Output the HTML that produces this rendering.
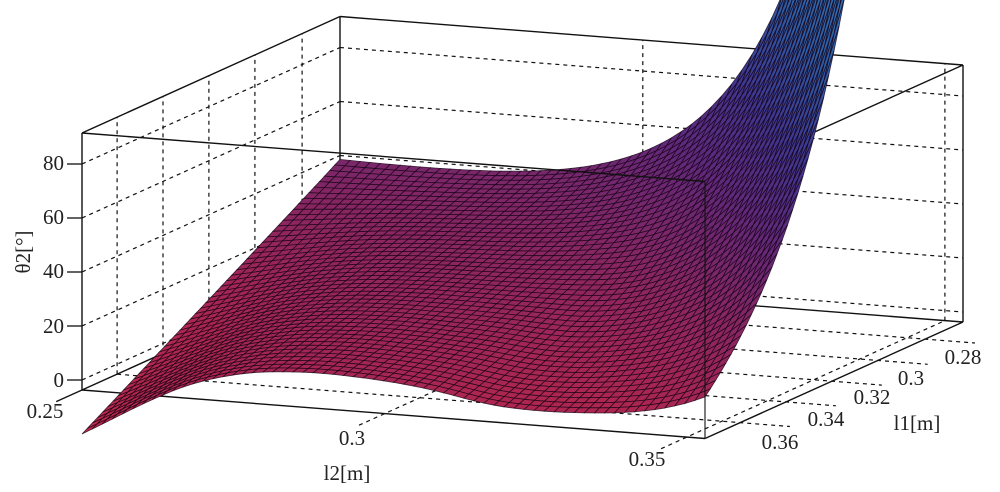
<!DOCTYPE html>
<html><head><meta charset="utf-8"><style>
html,body{margin:0;padding:0;background:#fff;width:1000px;height:492px;overflow:hidden}
svg{display:block}
text{font-family:"Liberation Serif",serif;fill:#222}
</style></head><body>
<svg id="s" width="1000" height="492" viewBox="0 0 1000 492" xmlns="http://www.w3.org/2000/svg">
<g id="under"></g><g id="surf"></g><g id="over"></g>
<g font-size="21">
<text x="64" y="170" text-anchor="end">80</text>
<text x="64" y="224" text-anchor="end">60</text>
<text x="64" y="278" text-anchor="end">40</text>
<text x="64" y="333" text-anchor="end">20</text>
<text x="64" y="387" text-anchor="end">0</text>
<text transform="translate(30,252) rotate(-90)" text-anchor="middle">θ2[°]</text>
<text x="45" y="418" text-anchor="middle">0.25</text>
<text x="352" y="445" text-anchor="middle">0.3</text>
<text x="647" y="466" text-anchor="middle">0.35</text>
<text x="347" y="480" text-anchor="middle">l2[m]</text>
<text x="963" y="364" text-anchor="middle">0.28</text>
<text x="911" y="385" text-anchor="middle">0.3</text>
<text x="872" y="404" text-anchor="middle">0.32</text>
<text x="826" y="426" text-anchor="middle">0.34</text>
<text x="780" y="449" text-anchor="middle">0.36</text>
<text x="917" y="430" text-anchor="middle">l1[m]</text>
</g>
</svg>
<script>
function P(u,v,z){return [82+623*u+258*v, 390+48.5*u-116.5*v-2.7*(z+3.7)];}
var F0p=[[0,-20],[.15,-1],[.25,6.5],[.35,9],[.45,8.5],[.55,6],[.67,0.5],[.83,-3],[1,-7]];
function F0(u){var n=F0p.length;for(var i=0;i<n-1;i++){var a=F0p[i],b=F0p[i+1];if(u<=b[0]){var t=(u-a[0])/(b[0]-a[0]);
var p0=F0p[Math.max(i-1,0)],p3=F0p[Math.min(i+2,n-1)];var h=b[0]-a[0];
var m1=(b[1]-p0[1])/(b[0]-p0[0])*h, m2=(p3[1]-a[1])/(p3[0]-a[0])*h;
var t2=t*t,t3=t2*t;return (2*t3-3*t2+1)*a[1]+(t3-2*t2+t)*m1+(-2*t3+3*t2)*b[1]+(t3-t2)*m2;}}return F0p[n-1][1];}
function Z(u,v){return (1-v)*F0(u)+v*(38-10*u)+620*Math.exp(7*(u-1)+3.5*(v-1));}
var stops=[[-20,[190,42,76]],[5,[172,38,80]],[30,[134,38,98]],[55,[96,40,122]],[80,[62,54,142]],[110,[46,92,164]],[170,[56,136,196]]];
function col(z){if(z<=stops[0][0])return stops[0][1];for(var i=0;i<stops.length-1;i++){var a=stops[i],b=stops[i+1];if(z<=b[0]){var t=(z-a[0])/(b[0]-a[0]);return [0,1,2].map(function(k){return Math.round(a[1][k]+(b[1][k]-a[1][k])*t);});}}return stops[stops.length-1][1];}
function L(p,q,dash,w){return '<line x1="'+p[0].toFixed(1)+'" y1="'+p[1].toFixed(1)+'" x2="'+q[0].toFixed(1)+'" y2="'+q[1].toFixed(1)+'" stroke="#111" stroke-width="'+(w||1.4)+'"'+(dash?' stroke-dasharray="4,4"':'')+'/>';}
var zb=-3.7,zt=91.5,s='';
var zs=[0,20,40,60,80],vs=[.136,.314,.492,.67,.853],us=[.486,.971];
zs.forEach(function(z){s+=L(P(0,1,z),P(1,1,z),1,1.2);s+=L(P(0,0,z),P(0,1,z),1,1.2);var p=P(0,0,z);s+=L([67,p[1]],[82,p[1]],0,1.3);});
us.forEach(function(u){s+=L(P(u,1,zb),P(u,1,zt),1,1.2);s+=L(P(u,-0.1,zb),P(u,1,zb),1,1.2);});
vs.forEach(function(v){s+=L(P(0,v,zb),P(0,v,zt),1,1.2);s+=L(P(0,v,zb),P(1.08,v,zb),1,1.2);});
s+=L(P(0,-0.1,zb),P(0,0,zb),0,1.3);
s+=L(P(0,1,zb),P(0,1,zt));s+=L(P(0,1,zt),P(1,1,zt));s+=L(P(0,1,zb),P(1,1,zb));
s+=L(P(1,1,zb),P(1,1,zt));s+=L(P(1,0,zt),P(1,1,zt));s+=L(P(0,0,zt),P(0,1,zt));
s+=L(P(0,0,zb),P(0,0,zt));s+=L(P(1,0,zb),P(1,1,zb));s+=L(P(0,0,zb),P(0,1,zb));s+=L(P(0,0,zb),P(1,0,zb));
document.getElementById('under').innerHTML=s;
var NU=62,NV=50,cells=[];
for(var i=0;i<NU;i++)for(var j=0;j<NV;j++){var u0=i/NU,u1=(i+1)/NU,v0=j/NV,v1=(j+1)/NV;
var zc=Z((u0+u1)/2,(v0+v1)/2);
cells.push({k:(v0+v1)/2-0.45*(u0+u1)/2,pts:[P(u0,v0,Z(u0,v0)),P(u1,v0,Z(u1,v0)),P(u1,v1,Z(u1,v1)),P(u0,v1,Z(u0,v1))],c:col(zc)});}
cells.sort(function(a,b){return b.k-a.k;});
var h='';cells.forEach(function(c){h+='<polygon points="'+c.pts.map(function(p){return p[0].toFixed(1)+','+p[1].toFixed(1);}).join(' ')+'" fill="rgb('+c.c.join(',')+')" stroke="rgba(20,0,20,0.75)" stroke-width="0.8"/>';});
document.getElementById('surf').innerHTML=h;
var o='';o+=L(P(0,0,zt),P(1,0,zt));o+=L(P(1,0,zb),P(1,0,zt),0,1.1);
document.getElementById('over').innerHTML=o;
</script>
</body></html>
